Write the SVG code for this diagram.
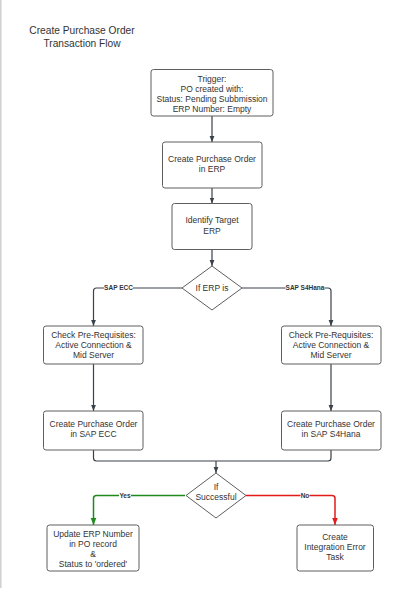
<svg xmlns="http://www.w3.org/2000/svg" width="403" height="591" viewBox="0 0 403 591">
<style>
  .box { fill: #ffffff; stroke: #5e5e5e; stroke-width: 1; }
  .t { font-family: "Liberation Sans", Arial, sans-serif; font-size: 8.5px; fill: #333333; text-anchor: middle; }
  .title { font-family: "Liberation Sans", Arial, sans-serif; font-size: 10.2px; fill: #333333; text-anchor: middle; }
  .lbl { font-family: "Liberation Sans", Arial, sans-serif; font-size: 6.5px; font-weight: bold; fill: #333333; text-anchor: middle; }
  .c { fill: none; stroke: #3a414a; stroke-width: 1.2; }
  .green { stroke: #1e8a1e; stroke-width: 1.5; }
  .red { stroke: #e41b1b; stroke-width: 1.5; }
  .lblbg { fill: #ffffff; }
</style>
<defs>
  <marker id="ah" viewBox="0 0 10 10" refX="10" refY="5" markerWidth="6" markerHeight="7" markerUnits="userSpaceOnUse" orient="auto">
    <path d="M0,1 L10,5 L0,9 z" fill="#3a414a"/>
  </marker>
  <marker id="ahg" viewBox="0 0 10 10" refX="10" refY="5" markerWidth="7" markerHeight="7" markerUnits="userSpaceOnUse" orient="auto">
    <path d="M0,1 L10,5 L0,9 z" fill="#1e8a1e"/>
  </marker>
  <marker id="ahr" viewBox="0 0 10 10" refX="10" refY="5" markerWidth="7" markerHeight="7" markerUnits="userSpaceOnUse" orient="auto">
    <path d="M0,1 L10,5 L0,9 z" fill="#e41b1b"/>
  </marker>
</defs>

<rect x="0" y="0" width="403" height="591" fill="#ffffff"/>
<line x1="0.8" y1="0" x2="0.8" y2="588" stroke="#cfcfcf" stroke-width="1.5"/>

<g id="title">
  <text class="title" x="82" y="33.5">Create Purchase Order</text>
  <text class="title" x="82" y="46.5">Transaction Flow</text>
</g>

<g id="connectors">
  <path class="c" d="M212,116 V142" marker-end="url(#ah)"/>
  <path class="c" d="M212,188 V203.5" marker-end="url(#ah)"/>
  <path class="c" d="M212,249.5 V266" marker-end="url(#ah)"/>
  <path class="c" d="M182,288 H96.5 Q93.5,288 93.5,291 V326" marker-end="url(#ah)"/>
  <path class="c" d="M242,288 H328 Q331,288 331,291 V326" marker-end="url(#ah)"/>
  <path class="c" d="M93.5,364 V411" marker-end="url(#ah)"/>
  <path class="c" d="M331,364 V411" marker-end="url(#ah)"/>
  <path class="c" d="M93.5,450 V458 Q93.5,461 96.5,461 H328 Q331,461 331,458 V450"/>
  <path class="c" d="M216,461 V473" marker-end="url(#ah)"/>
  <path class="c green" d="M185,495.5 H96.5 Q93.5,495.5 93.5,498.5 V525" marker-end="url(#ahg)"/>
  <path class="c red" d="M246,495.5 H332 Q335,495.5 335,498.5 V525" marker-end="url(#ahr)"/>
  <rect class="lblbg" x="104" y="285" width="29" height="6.5"/>
  <text class="lbl" x="118.5" y="290.3">SAP ECC</text>
  <rect class="lblbg" x="285.5" y="285" width="39" height="6.5"/>
  <text class="lbl" x="305" y="290.3">SAP S4Hana</text>
  <rect class="lblbg" x="119" y="492" width="12" height="6.5"/>
  <text class="lbl" x="125" y="497.8">Yes</text>
  <rect class="lblbg" x="300.5" y="492" width="9" height="6.5"/>
  <text class="lbl" x="305" y="497.8">No</text>
</g>

<g id="trigger">
  <rect class="box" x="151" y="69.5" width="122" height="46.5" rx="2.5"/>
  <text class="t" x="212" y="82">Trigger:</text>
  <text class="t" x="212" y="92">PO created with:</text>
  <text class="t" x="212" y="102">Status: Pending Subbmission</text>
  <text class="t" x="212" y="112">ERP Number: Empty</text>
</g>

<g id="create-po-erp">
  <rect class="box" x="162.5" y="142" width="99.5" height="46" rx="2.5"/>
  <text class="t" x="212" y="161.8">Create Purchase Order</text>
  <text class="t" x="212" y="172">in ERP</text>
</g>

<g id="identify-erp">
  <rect class="box" x="172" y="203.5" width="80" height="46" rx="2.5"/>
  <text class="t" x="212" y="223">Identify Target</text>
  <text class="t" x="212" y="234">ERP</text>
</g>

<g id="if-erp">
  <path class="box" d="M212,266 L242,288 L212,310 L182,288 Z"/>
  <text class="t" x="212" y="291">If ERP is</text>
</g>

<g id="check-ecc">
  <rect class="box" x="43.5" y="326" width="99.5" height="38" rx="2.5"/>
  <text class="t" x="93.5" y="338">Check Pre-Requisites:</text>
  <text class="t" x="93.5" y="348">Active Connection &amp;</text>
  <text class="t" x="93.5" y="358">Mid Server</text>
</g>

<g id="check-s4">
  <rect class="box" x="281.5" y="326" width="99.5" height="38" rx="2.5"/>
  <text class="t" x="331" y="338">Check Pre-Requisites:</text>
  <text class="t" x="331" y="348">Active Connection &amp;</text>
  <text class="t" x="331" y="358">Mid Server</text>
</g>

<g id="create-ecc">
  <rect class="box" x="43.5" y="411" width="99.5" height="39" rx="2.5"/>
  <text class="t" x="93.5" y="427">Create Purchase Order</text>
  <text class="t" x="93.5" y="437.3">in SAP ECC</text>
</g>

<g id="create-s4">
  <rect class="box" x="281.5" y="411" width="99.5" height="39" rx="2.5"/>
  <text class="t" x="331" y="427">Create Purchase Order</text>
  <text class="t" x="331" y="437.3">in SAP S4Hana</text>
</g>

<g id="if-successful">
  <path class="box" d="M216,473 L246,495.5 L216,518 L186,495.5 Z"/>
  <text class="t" x="216" y="489.7">If</text>
  <text class="t" x="216" y="499.7">Successful</text>
</g>

<g id="update-erp">
  <rect class="box" x="47" y="525" width="92" height="46" rx="2.5"/>
  <text class="t" x="93" y="536.7">Update ERP Number</text>
  <text class="t" x="93" y="547">in PO record</text>
  <text class="t" x="93" y="557">&amp;</text>
  <text class="t" x="93" y="567">Status to 'ordered'</text>
</g>

<g id="error-task">
  <rect class="box" x="297" y="525" width="76.5" height="46" rx="2.5"/>
  <text class="t" x="335" y="540">Create</text>
  <text class="t" x="335" y="550">Integration Error</text>
  <text class="t" x="335" y="560">Task</text>
</g>
</svg>
